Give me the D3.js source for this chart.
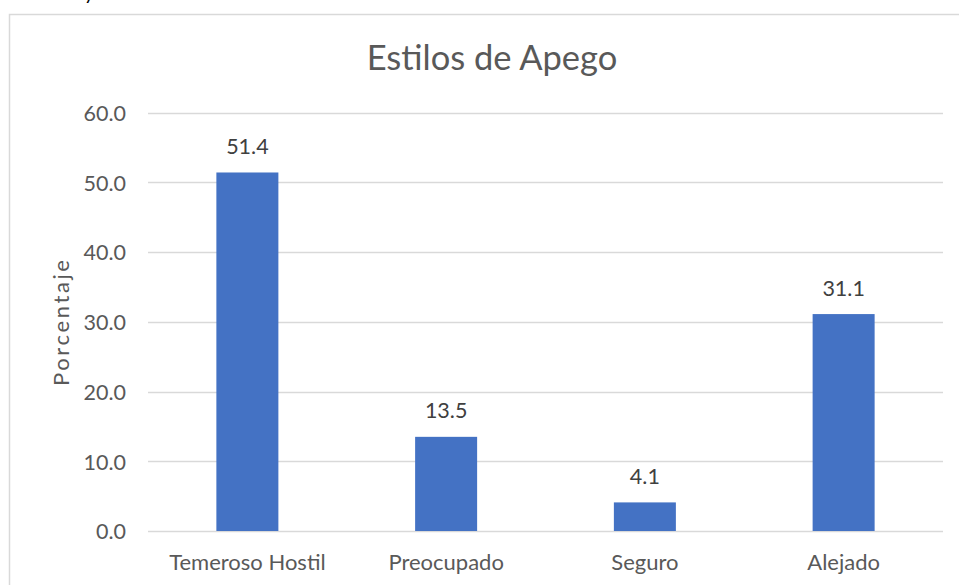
<!DOCTYPE html>
<html><head><meta charset="utf-8">
<script src="https://cdn.jsdelivr.net/npm/d3@7"></script>
<style>body{margin:0;background:#fff}svg{display:block}text{font-family:Lato,"Open Sans",sans-serif;fill:#595959}</style>
</head><body><svg id="c" width="959" height="585"></svg>
<script>
const categories = ["Temeroso Hostil","Preocupado","Seguro","Alejado"];
const values = [51.4,13.5,4.1,31.1];
const yTicks = [0,10,20,30,40,50,60];
const title = "Estilos de Apego";
const yTitle = "Porcentaje";

const svg = d3.select("#c");
// cut-off text from above the chart
svg.append("text").attr("x",84).attr("y",0).attr("font-size",20).style("fill","#000").text("y");
// chart border
svg.append("rect").attr("x",9.5).attr("y",14.5).attr("width",1000).attr("height",700)
  .attr("fill","none").attr("stroke","#d9d9d9").attr("stroke-width",1.5);

const x = d3.scaleBand().domain(categories).range([148,943]).paddingInner(0.688).paddingOuter(0.344);
const y = d3.scaleLinear().domain([0,60]).range([531,112.5]);

// gridlines
svg.append("g").selectAll("line").data(yTicks).join("line")
  .attr("x1",148).attr("x2",943).attr("y1",d=>Math.round(y(d))+0.5).attr("y2",d=>Math.round(y(d))+0.5)
  .attr("stroke","#d9d9d9").attr("stroke-width",1.3);

// y axis labels
const yAxis = d3.axisLeft(y).tickValues(yTicks).tickFormat(d3.format(".1f")).tickSize(0).tickPadding(22);
const ga = svg.append("g").attr("transform","translate(148,0)").call(yAxis);
ga.select(".domain").remove();
ga.selectAll("text").attr("font-size",21.5).style("fill","#595959").attr("font-family","Lato,sans-serif").attr("dy","0.36em");

// bars
svg.append("g").selectAll("rect").data(values).join("rect")
  .attr("x",(d,i)=>x(categories[i])).attr("width",x.bandwidth())
  .attr("y",d=>y(d)).attr("height",d=>y(0)-y(d)).attr("fill","#4472c4");

// data labels
svg.append("g").selectAll("text").data(values).join("text")
  .attr("x",(d,i)=>x(categories[i])+x.bandwidth()/2).attr("y",d=>y(d)-18.5)
  .attr("text-anchor","middle").attr("font-size",21.5).style("fill","#404040").text(d=>d.toFixed(1));

// x axis labels
const xAxis = d3.axisBottom(x).tickSize(0).tickPadding(0);
const gx = svg.append("g").attr("transform","translate(0,555)").call(xAxis);
gx.select(".domain").remove();
gx.selectAll("text").attr("font-size",22).style("fill","#595959").attr("font-family","Lato,sans-serif").attr("dy","0.7em");

// title
svg.append("text").attr("x",492).attr("y",70).attr("text-anchor","middle").attr("font-size",34.5).text(title);
// y title
svg.append("text").attr("transform","translate(69,323) rotate(-90)").attr("text-anchor","middle")
  .attr("font-size",22).attr("textLength",126).attr("lengthAdjust","spacing").text(yTitle);
</script></body></html>
